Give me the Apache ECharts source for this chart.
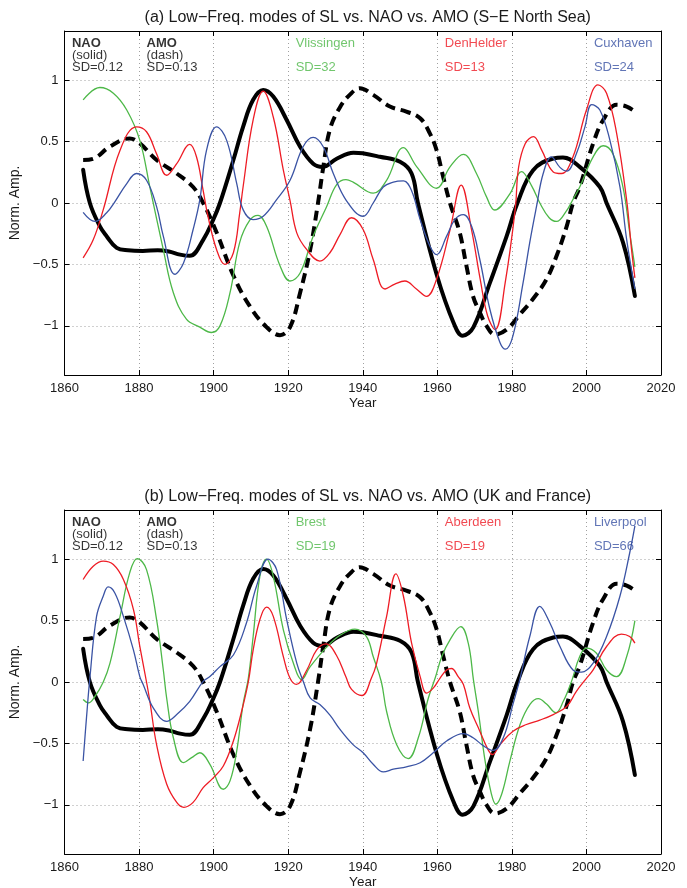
<!DOCTYPE html>
<html>
<head>
<meta charset="utf-8">
<script src="https://cdn.jsdelivr.net/npm/echarts@6/dist/echarts.min.js"></script>
<style>
  html, body { margin: 0; padding: 0; background: #fff; }
  #chart { width: 687px; height: 888px; }
</style>
</head>
<body>
<div id="chart"></div>
<script>
// ---- Data: low-frequency modes, normalised amplitude, [year, value] ----
const nao = [
  [1865,0.27],[1866.8,0.0],[1869.5,-0.19],[1871.3,-0.27],[1874,-0.365],[1877,-0.385],[1881,-0.39],
  [1885,-0.385],[1888,-0.395],[1891,-0.42],[1893.6,-0.43],[1897.2,-0.30],[1899.9,-0.135],[1901.7,0.0],
  [1905.3,0.35],[1907.9,0.62],[1910.6,0.84],[1913.3,0.92],[1916,0.866],[1919.6,0.676],[1923.2,0.458],
  [1926.7,0.32],[1929.3,0.294],[1933,0.36],[1937.5,0.41],[1940,0.405],[1944.6,0.376],[1950,0.335],
  [1953.1,0.24],[1954.8,0.0],[1959.9,-0.59],[1964.3,-0.97],[1966.8,-1.08],[1969.7,-1.01],[1974.1,-0.65],
  [1978.6,-0.27],[1981.5,0.0],[1985.7,0.267],[1991.1,0.362],[1993.7,0.37],[1998.2,0.294],[2003.6,0.13],
  [2005.4,0.0],[2009.8,-0.32],[2013,-0.757]
];
const amo = [
  [1865,0.35],[1867.7,0.36],[1872.2,0.46],[1877.5,0.526],[1880.2,0.485],[1884.7,0.35],[1890.1,0.24],
  [1894.5,0.13],[1897.2,0.0],[1900.8,-0.24],[1905.3,-0.59],[1909.7,-0.84],[1914.2,-1.01],[1917.8,-1.076],
  [1920.5,-1.01],[1923.2,-0.73],[1925.9,-0.38],[1928,0.0],[1929.4,0.29],[1931.2,0.6],[1933.9,0.78],
  [1936.5,0.88],[1939.2,0.935],[1942.8,0.88],[1947.3,0.785],[1951.7,0.744],[1955.4,0.69],[1958,0.567],
  [1959.8,0.43],[1961.6,0.21],[1963.4,0.0],[1966,-0.24],[1967.8,-0.51],[1969.6,-0.76],[1971.4,-0.89],
  [1973.2,-1.0],[1975.4,-1.07],[1978.6,-1.03],[1982.2,-0.905],[1985.7,-0.78],[1989.3,-0.62],[1992,-0.43],
  [1994.7,-0.19],[1996.4,0.0],[1998.2,0.13],[2001.8,0.485],[2004.5,0.676],[2008.1,0.8],[2010.8,0.785],
  [2013,0.744]
];

// (a) S-E North Sea stations
const vlissingen = [
  [1865,0.84],[1869.5,0.94],[1873.1,0.894],[1876.7,0.757],[1880.2,0.51],[1882.9,0.13],[1886.5,-0.38],
  [1889.2,-0.73],[1892.7,-0.946],[1896.3,-1.01],[1899.4,-1.054],[1901.7,-1.0],[1904.4,-0.73],[1907,-0.32],
  [1909.7,-0.14],[1911.9,-0.1],[1914.2,-0.19],[1917.8,-0.51],[1920.5,-0.635],[1923.2,-0.57],[1926.7,-0.27],
  [1930.3,-0.03],[1933,0.15],[1935.5,0.19],[1937.4,0.17],[1942.8,0.08],[1946.4,0.185],[1950.9,0.45],
  [1954.5,0.294],[1959.8,0.12],[1963.4,0.294],[1967,0.396],[1970.5,0.24],[1973.2,0.05],[1975.4,-0.057],
  [1979.5,0.076],[1982.6,0.255],[1985.3,0.14],[1987.5,0.0],[1990,-0.12],[1992,-0.15],[1994.5,-0.07],
  [1996.4,0.03],[1998.2,0.13],[2001.8,0.376],[2004.5,0.466],[2007.1,0.40],[2009.8,0.13],[2011.6,-0.24],
  [2013,-0.52]
];
const denHelder = [
  [1865,-0.446],[1867.7,-0.30],[1870.4,-0.054],[1874.9,0.43],[1879.3,0.62],[1882,0.58],[1884.7,0.40],
  [1887.4,0.226],[1890.1,0.32],[1893.6,0.477],[1895.4,0.376],[1897.2,0.10],[1898.5,-0.11],[1900.8,-0.38],
  [1903,-0.5],[1905.3,-0.405],[1907,-0.08],[1907.9,0.13],[1910.6,0.676],[1913.3,0.91],[1916,0.70],
  [1918.7,0.267],[1920.5,0.02],[1922.3,-0.243],[1925,-0.38],[1928.5,-0.473],[1931.2,-0.405],[1933.9,-0.257],
  [1937,-0.12],[1940.1,-0.216],[1942.8,-0.46],[1946,-0.70],[1948.6,-0.66],[1951.3,-0.635],[1954.4,-0.70],
  [1957.1,-0.76],[1959.8,-0.62],[1963.4,-0.22],[1966.4,0.146],[1969.2,-0.22],[1971.5,-0.62],[1973.5,-0.92],
  [1975.5,-1.03],[1978.2,-0.65],[1980.9,-0.05],[1981.8,0.29],[1983.6,0.485],[1985.8,0.54],[1988,0.43],
  [1991.1,0.253],[1993.3,0.24],[1996.4,0.376],[2000,0.757],[2003.1,0.962],[2005.4,0.894],[2008.1,0.567],
  [2010.8,0.02],[2012.1,-0.38],[2013,-0.61]
];
const cuxhaven = [
  [1865,-0.076],[1868.2,-0.15],[1871.3,-0.08],[1873.5,0.01],[1876.7,0.158],[1879.3,0.24],[1882,0.185],
  [1884.7,-0.03],[1886.5,-0.27],[1889.6,-0.58],[1891.9,-0.49],[1894.5,-0.216],[1896.3,0.027],[1898.1,0.43],
  [1900.8,0.62],[1903.5,0.51],[1906.2,0.158],[1907.9,-0.054],[1910.6,-0.135],[1913.3,-0.108],[1916.9,0.027],
  [1920.5,0.185],[1924,0.458],[1926.7,0.534],[1929.4,0.458],[1932.1,0.24],[1935.6,0.02],[1940.1,-0.108],
  [1942.8,0.0],[1945.5,0.13],[1948.2,0.17],[1950.9,0.18],[1953.1,0.10],[1955.4,-0.135],[1958,-0.35],
  [1959.8,-0.42],[1962.5,-0.27],[1964.7,-0.135],[1967,-0.095],[1969.2,-0.19],[1971.4,-0.46],[1974.1,-0.865],
  [1976.8,-1.135],[1978.3,-1.19],[1980.3,-1.08],[1983,-0.65],[1984.8,-0.32],[1986.6,-0.03],[1988.4,0.24],
  [1990.6,0.376],[1992.9,0.29],[1994.7,0.26],[1997.3,0.40],[1999.6,0.62],[2001.4,0.80],[2003.6,0.757],
  [2006.3,0.51],[2009,0.13],[2010.8,-0.3],[2013,-0.70]
];

// (b) UK and France stations
const brest = [
  [1865,-0.143],[1866.4,-0.17],[1868.2,-0.116],[1870.4,0.0],[1872.2,0.153],[1874.9,0.534],[1877.5,0.89],
  [1879.5,1.005],[1882,0.915],[1884.7,0.507],[1886.5,0.1],[1887.4,-0.13],[1889.2,-0.454],[1891.9,-0.657],
  [1894.1,-0.616],[1896.3,-0.576],[1899,-0.67],[1902.6,-0.873],[1904.4,-0.805],[1906.2,-0.56],[1907.9,-0.18],
  [1909.3,0.03],[1910.6,0.37],[1912.4,0.86],[1914.2,1.0],[1916,0.86],[1918.7,0.425],[1921.4,0.153],
  [1923.6,0.02],[1925.9,0.125],[1930.2,0.28],[1933.9,0.38],[1937.9,0.43],[1941,0.37],[1942.8,0.207],
  [1945,0.0],[1946.4,-0.24],[1949.1,-0.51],[1952.2,-0.624],[1954.9,-0.454],[1957.6,-0.13],[1959.4,0.03],
  [1961.2,0.207],[1963.4,0.343],[1966.3,0.45],[1968.3,0.316],[1969.7,0.016],[1971,-0.24],[1972.8,-0.64],
  [1974.5,-0.91],[1975.7,-0.995],[1977.3,-0.91],[1979.5,-0.64],[1982.2,-0.346],[1984.9,-0.18],[1987.1,-0.135],
  [1989.3,-0.18],[1991.8,-0.25],[1993.8,-0.157],[1996,0.005],[1998.2,0.207],[2000,0.275],[2002.7,0.234],
  [2005.4,0.098],[2008.1,0.044],[2010.8,0.207],[2013,0.50]
];
const aberdeen = [
  [1865,0.834],[1867.7,0.943],[1870.4,0.984],[1873.1,0.956],[1875.8,0.834],[1878.5,0.589],[1880.2,0.29],
  [1882,0.0],[1882.9,-0.157],[1884.7,-0.51],[1887.4,-0.83],[1890.1,-0.98],[1892,-1.02],[1894.5,-0.98],
  [1897.2,-0.86],[1899.9,-0.78],[1902.6,-0.684],[1905.3,-0.48],[1907.5,-0.24],[1909.3,0.0],[1910.6,0.26],
  [1912.4,0.507],[1914.2,0.61],[1916,0.534],[1918.7,0.207],[1920.5,0.03],[1922.2,-0.02],[1925,0.098],
  [1927.6,0.26],[1930.2,0.31],[1932.9,0.22],[1935.5,0.04],[1937,-0.06],[1939.8,-0.11],[1942.3,0.03],
  [1943.7,0.15],[1946.4,0.534],[1948.9,0.88],[1950.9,0.70],[1953.1,0.316],[1955.4,0.044],[1957.1,-0.09],
  [1958.9,-0.05],[1960.7,0.03],[1962.5,0.098],[1963.8,0.11],[1965.6,0.044],[1967,-0.02],[1968.7,-0.21],
  [1971.4,-0.4],[1973.6,-0.55],[1974.8,-0.59],[1976.8,-0.51],[1980.3,-0.4],[1983.9,-0.346],[1987.5,-0.31],
  [1991.1,-0.265],[1994.7,-0.2],[1997.3,-0.076],[2000,0.03],[2001.8,0.098],[2005.4,0.289],[2009.4,0.39],
  [2011.6,0.37],[2013,0.316]
];
const liverpool = [
  [1865,-0.643],[1865.9,-0.29],[1866.8,0.03],[1868.6,0.534],[1870.4,0.7],[1871.7,0.774],[1873.5,0.725],
  [1875.8,0.534],[1878.5,0.26],[1880.2,0.044],[1881.1,-0.02],[1883.8,-0.21],[1887.4,-0.32],[1890.1,-0.265],
  [1893.6,-0.157],[1897.2,0.005],[1899,0.044],[1901.7,0.125],[1905.3,0.22],[1908.8,0.48],[1911.5,0.78],
  [1914.6,1.0],[1916.9,0.915],[1919.6,0.507],[1922.3,0.153],[1924.1,0.0],[1925.9,-0.13],[1928.5,-0.184],
  [1931.2,-0.27],[1933.9,-0.386],[1937.4,-0.51],[1940.1,-0.576],[1942.8,-0.67],[1945.5,-0.732],[1948.2,-0.71],
  [1951.7,-0.69],[1955.4,-0.657],[1958.9,-0.576],[1962.5,-0.48],[1967,-0.42],[1969.6,-0.454],[1972.4,-0.52],
  [1975,-0.557],[1977.7,-0.454],[1980.3,-0.18],[1982.2,0.03],[1984.8,0.37],[1987.5,0.616],[1990.2,0.48],
  [1992.9,0.289],[1996.4,0.098],[1998.7,0.08],[2001.8,0.153],[2005.4,0.37],[2009,0.70],[2011.6,1.05],
  [2013,1.27]
];

// ---- Labels ----
const titles = [
  '(a) Low\u2212Freq. modes of SL vs. NAO vs. AMO (S\u2212E North Sea)',
  '(b) Low\u2212Freq. modes of SL vs. NAO vs. AMO (UK and France)'
];
const stationNamesA = ['Vlissingen', 'DenHelder', 'Cuxhaven'];
const stationSDA = [32, 13, 24];
const stationNamesB = ['Brest', 'Aberdeen', 'Liverpool'];
const stationSDB = [19, 19, 66];
const indexNames = ['NAO', 'AMO'];
const indexStyles = ['(solid)', '(dash)'];
const indexSD = [0.12, 0.13];
const yTickValues = [-1, -0.5, 0, 0.5, 1];
const xTickLabels = [1860, 1880, 1900, 1920, 1940, 1960, 1980, 2000, 2020];

// ---- Styling ----
const FONT = '"Liberation Sans", Arial, Helvetica, sans-serif';
const stationColors = ['#4db848', '#ee1c25', '#3a53a4'];
const gridTops = [31, 510];
const GRID_LEFT = 64.5, GRID_W = 596.5, GRID_H = 344;
const textColor = '#1a1a1a';

const fmtNum = v => String(v).replace('-', '\u2212');

const option = {
  animation: false,
  backgroundColor: '#ffffff',
  title: [],
  grid: [],
  xAxis: [],
  yAxis: [],
  series: []
};

function addPanel(p, stationData, names, sds) {
  const top = gridTops[p];
  option.title.push({
    text: titles[p],
    left: GRID_LEFT + GRID_W / 2,
    top: top - 26,
    textAlign: 'center',
    textStyle: { fontFamily: FONT, fontSize: 16, fontWeight: 'normal', color: textColor }
  });
  option.grid.push({
    left: GRID_LEFT, top: top, width: GRID_W, height: GRID_H,
    containLabel: false, outerBoundsMode: 'none'
  });

  const axisLine = { show: true, onZero: false, lineStyle: { color: '#000', width: 1 } };
  const splitLine = { show: true, lineStyle: { color: '#a0a0a0', width: 1, type: [1, 3] } };

  // bottom x axis (labels, grid) + top x axis (box and ticks)
  option.xAxis.push({
    type: 'value', gridIndex: p, min: 1860, max: 2020, interval: 20, position: 'bottom',
    axisLine, axisTick: { show: true, inside: true, length: 5, lineStyle: { color: '#000' } },
    axisLabel: { show: true, margin: 7, fontFamily: FONT, fontSize: 13, color: textColor,
      formatter: v => (xTickLabels.includes(v) ? String(v) : '') },
    splitLine,
    name: 'Year', nameLocation: 'middle', nameGap: 20,
    nameTextStyle: { fontFamily: FONT, fontSize: 13.5, color: textColor }
  });
  option.xAxis.push({
    type: 'value', gridIndex: p, min: 1860, max: 2020, interval: 20, position: 'top',
    axisLine, axisTick: { show: true, inside: true, length: 5, lineStyle: { color: '#000' } },
    axisLabel: { show: false }, splitLine: { show: false }
  });
  // left y axis (labels, grid) + right y axis (box and ticks)
  option.yAxis.push({
    type: 'value', gridIndex: p, min: -1.4, max: 1.4, position: 'left',
    axisLine,
    axisTick: { show: true, inside: true, length: 5, customValues: yTickValues, lineStyle: { color: '#000' } },
    axisLabel: { show: true, margin: 6, fontFamily: FONT, fontSize: 13, color: textColor,
      customValues: yTickValues, formatter: fmtNum },
    splitLine,
    name: 'Norm. Amp.', nameLocation: 'middle', nameGap: 28,
    nameTextStyle: { fontFamily: FONT, fontSize: 14, color: textColor }
  });
  option.yAxis.push({
    type: 'value', gridIndex: p, min: -1.4, max: 1.4, position: 'right',
    axisLine,
    axisTick: { show: true, inside: true, length: 5, customValues: yTickValues, lineStyle: { color: '#000' } },
    axisLabel: { show: false }, splitLine: { show: false }
  });

  const xi = p * 2, yi = p * 2;
  const base = {
    type: 'line', xAxisIndex: xi, yAxisIndex: yi, showSymbol: false, symbol: 'none',
    smooth: 0.4, clip: true, silent: true
  };

  // climate indices underneath
  option.series.push(Object.assign({}, base, {
    name: 'NAO', data: nao, z: 2,
    lineStyle: { color: '#000', width: 4, cap: 'round', join: 'round' }
  }));
  option.series.push(Object.assign({}, base, {
    name: 'AMO', data: amo, z: 2,
    lineStyle: { color: '#000', width: 4, type: [10, 6], cap: 'butt', join: 'round' }
  }));
  // station curves on top
  stationData.forEach((d, i) => {
    option.series.push(Object.assign({}, base, {
      name: names[i], data: d, z: 3,
      lineStyle: { color: stationColors[i], width: 1.3 }
    }));
  });

  // in-axes annotation block
  const textYears = [1862, 1882, 1922, 1962, 2002];
  const labelBase = { show: true, position: 'right', distance: 0, fontFamily: FONT, fontSize: 13,
    lineHeight: 12.3, align: 'left', verticalAlign: 'middle' };
  const notes = [];
  indexNames.forEach((n, i) => {
    notes.push({
      value: [textYears[i], 1.2],
      label: Object.assign({}, labelBase, {
        color: '#000',
        formatter: '{b|' + n + '}\n' + indexStyles[i] + '\nSD=' + indexSD[i].toFixed(2),
        rich: { b: { fontWeight: 'bold', fontFamily: FONT, fontSize: 13, lineHeight: 12.3, color: '#000' } }
      })
    });
  });
  names.forEach((n, i) => {
    notes.push({
      value: [textYears[i + 2], 1.2],
      label: Object.assign({}, labelBase, {
        color: stationColors[i],
        formatter: n + '\n\nSD=' + sds[i]
      })
    });
  });
  option.series.push({
    type: 'scatter', xAxisIndex: xi, yAxisIndex: yi, symbolSize: 0, silent: true, z: 4,
    data: notes, label: labelBase, clip: false
  });
}

addPanel(0, [vlissingen, denHelder, cuxhaven], stationNamesA, stationSDA);
addPanel(1, [brest, aberdeen, liverpool], stationNamesB, stationSDB);

const chart = echarts.init(document.getElementById('chart'), null, { renderer: 'canvas' });
chart.setOption(option);
</script>
</body>
</html>
